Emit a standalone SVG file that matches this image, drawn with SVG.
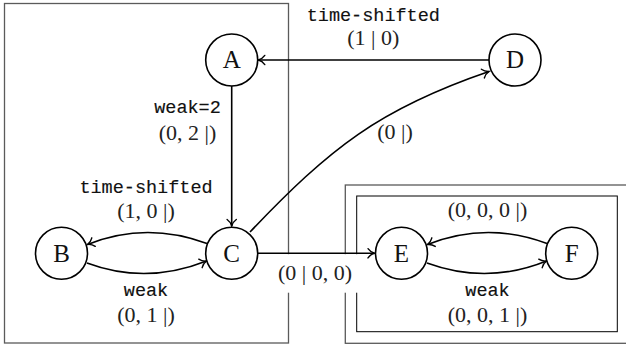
<svg xmlns="http://www.w3.org/2000/svg" width="626" height="347" viewBox="0 0 626 347">
<style>
.box{fill:none;stroke:#5a5a5a;stroke-width:1.3}
.inner{fill:none;stroke:#000;stroke-width:1}
.node circle{fill:#fff;stroke:#000;stroke-width:1.6}
.node text{font-family:"Liberation Serif","DejaVu Serif",serif;font-size:25px;text-anchor:middle;fill:#111}
.edge{fill:none;stroke:#000;stroke-width:1.6;marker-end:url(#to)}
.m{font-family:"Liberation Serif","DejaVu Serif",serif;font-size:22px;text-anchor:middle;fill:#222}
.tt{font-family:"Liberation Mono","DejaVu Sans Mono",monospace;font-size:18.5px;text-anchor:middle;fill:#111;stroke:#111;stroke-width:0.15}
</style>
<defs>
<marker id="to" markerUnits="userSpaceOnUse" markerWidth="12" markerHeight="12" refX="0" refY="0" viewBox="-8 -6 10 12" orient="auto" overflow="visible">
<path d="M-6.5,-4.6 C-4.8,-2.2 -2.2,-0.6 0,0 C-2.2,0.6 -4.8,2.2 -6.5,4.6" fill="none" stroke="#000" stroke-width="1.4" stroke-linecap="round"/>
</marker>
</defs>
<g id="boxes">
<rect class="box" x="4.5" y="3.5" width="284" height="339.5"/>
<rect class="box" x="345.3" y="185" width="283" height="158.3"/>
<rect class="inner" x="356.7" y="196" width="260.6" height="135.7"/>
</g>
<rect x="271" y="254.2" width="88" height="38.5" fill="#fff"/>
<g id="connectors">
<path class="edge" d="M489,60 L258.3,60"/>
<path class="edge" d="M231.7,86 L231.7,226"/>
<path class="edge" d="M250,232 C330,148 379,109 489,71.5"/>
<path class="edge" d="M207,243.5 Q146,221 87.5,244.5"/>
<path class="edge" d="M87,263 Q146,285 206.5,261"/>
<path class="edge" d="M258,253.3 L374.5,253.3"/>
<path class="edge" d="M547,243.5 Q487,221 427.5,244.5"/>
<path class="edge" d="M427,263 Q487,285 546.5,261"/>
</g>
<g id="labels">
<text class="tt" x="373.3" y="20.5">time-shifted</text>
<text class="m" x="373.3" y="45">(1 | 0)</text>
<text class="tt" x="187.5" y="113">weak=2</text>
<text class="m" x="187.5" y="139.5">(0, 2 |)</text>
<text class="m" x="395" y="138.5">(0 |)</text>
<text class="tt" x="146" y="192.5">time-shifted</text>
<text class="m" x="146" y="218">(1, 0 |)</text>
<text class="tt" x="146" y="296">weak</text>
<text class="m" x="146" y="321.5">(0, 1 |)</text>
<text class="m" x="315" y="280">(0 | 0, 0)</text>
<text class="m" x="487.5" y="217">(0, 0, 0 |)</text>
<text class="tt" x="487.5" y="296">weak</text>
<text class="m" x="487.5" y="321.5">(0, 0, 1 |)</text>
</g>
<g id="A" class="node"><circle cx="231.7" cy="60" r="26"/><text x="231.7" y="68.3">A</text></g>
<g id="D" class="node"><circle cx="515" cy="60" r="26"/><text x="515" y="68.3">D</text></g>
<g id="B" class="node"><circle cx="61.5" cy="253.3" r="26"/><text x="61.5" y="261.6">B</text></g>
<g id="C" class="node"><circle cx="231.7" cy="253.3" r="26"/><text x="231.7" y="261.6">C</text></g>
<g id="E" class="node"><circle cx="401.5" cy="253.3" r="26"/><text x="401.5" y="261.6">E</text></g>
<g id="F" class="node"><circle cx="571.7" cy="253.3" r="26"/><text x="571.7" y="261.6">F</text></g>
</svg>
